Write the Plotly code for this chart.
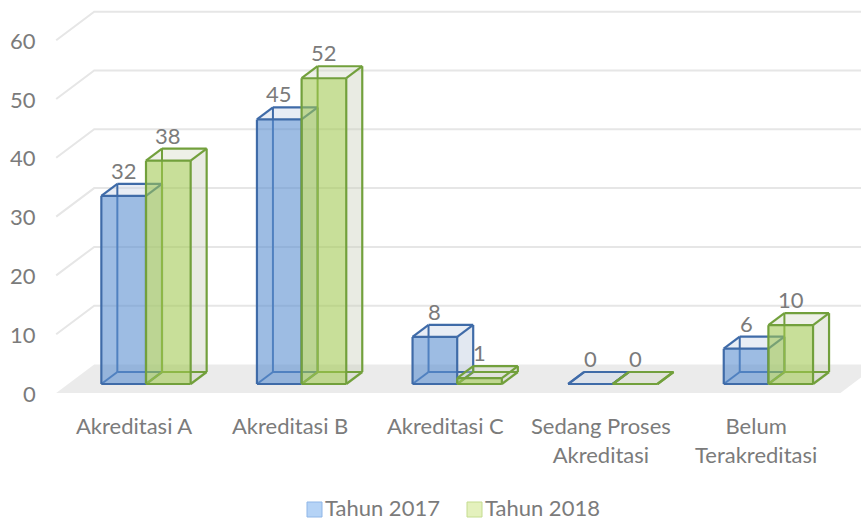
import plotly.graph_objects as go

# ---------------- data ----------------
categories = ["Akreditasi A", "Akreditasi B", "Akreditasi C",
              "Sedang Proses<br>Akreditasi", "Belum<br>Terakreditasi"]
series_names = ["Tahun 2017", "Tahun 2018"]
tahun_2017 = [32, 45, 8, 0, 6]
tahun_2018 = [38, 52, 1, 0, 10]
y_ticks = [0, 10, 20, 30, 40, 50, 60]

# ---------------- style / geometry ----------------
FIG_W, FIG_H = 861, 522
PX_U, PX_V = 155.6, 5.88          # pixels per category unit / value unit
ORIGIN_PX, ORIGIN_PY = 146, 384   # pixel of (category 0, value 0) on bar-front plane
DU = 38 / PX_U                    # depth (floor front -> back wall) in x units
DV = 28.5 / PX_V                  # depth in value units
ZF = 9 / 28.5                     # bar front depth
ZB = ZF + 12 / 28.5               # bar back depth
W = 0.287                         # bar width (category units)
U_LO, U_HI = -0.5, 4.54           # floor extent

TEXT_COLOR = "#7b7b7b"
FONT = "Lato"
FS = 22

series_style = [
    dict(edge="#3f6ba8", front="rgba(91,143,208,0.60)", side="rgba(190,203,225,0.45)",
         top="rgba(205,215,232,0.45)", sw_fill="#b5d3f6", sw_line="#8fb6e7"),
    dict(edge="#72a03c", front="rgba(160,200,80,0.58)", side="rgba(200,205,185,0.40)",
         top="rgba(205,212,190,0.35)", sw_fill="#e4f1bd", sw_line="#c4dc8f"),
]


def P(u, v, z):
    return (u + (z - ZF) * DU, v + (z - ZF) * DV)


def poly(pts):
    xs = [p[0] for p in pts] + [pts[0][0]]
    ys = [p[1] for p in pts] + [pts[0][1]]
    return xs, ys


def segs(pairs):
    xs, ys = [], []
    for a, b in pairs:
        xs += [a[0], b[0], None]
        ys += [a[1], b[1], None]
    return xs, ys


fig = go.Figure()

# floor
fx, fy = poly([P(U_LO, 0, 0), P(U_HI, 0, 0), P(U_HI, 0, 1), P(U_LO, 0, 1)])
fig.add_trace(go.Scatter(x=fx, y=fy, mode="lines", fill="toself",
                         fillcolor="#ebebeb", line=dict(width=0),
                         hoverinfo="skip", showlegend=False))

# gridlines (side wall diagonal + back wall)
gx, gy = [], []
for v in y_ticks[1:]:
    for p in [P(U_LO, v, 0), P(U_LO, v, 1), P(U_HI, v, 1)]:
        gx.append(p[0]); gy.append(p[1])
    gx.append(None); gy.append(None)
fig.add_trace(go.Scatter(x=gx, y=gy, mode="lines",
                         line=dict(color="#e6e6e6", width=2),
                         hoverinfo="skip", showlegend=False))

annotations = []
all_series = [tahun_2017, tahun_2018]

for i in range(len(categories)):
    for s, vals in enumerate(all_series):
        st = series_style[s]
        v = vals[i]
        x0 = i - W + s * W
        x1 = x0 + W
        FBL, FBR, FTR, FTL = P(x0, 0, ZF), P(x1, 0, ZF), P(x1, v, ZF), P(x0, v, ZF)
        BBL, BBR, BTR, BTL = P(x0, 0, ZB), P(x1, 0, ZB), P(x1, v, ZB), P(x0, v, ZB)

        # right side face
        sx, sy = poly([FBR, BBR, BTR, FTR])
        fig.add_trace(go.Scatter(x=sx, y=sy, mode="lines", fill="toself",
                                 fillcolor=st["side"], line=dict(width=0),
                                 hoverinfo="skip", showlegend=False))
        # top face
        tx, ty = poly([FTL, FTR, BTR, BTL])
        fig.add_trace(go.Scatter(x=tx, y=ty, mode="lines", fill="toself",
                                 fillcolor=st["top"], line=dict(width=0),
                                 hoverinfo="skip", showlegend=False))
        # hidden edges (seen through the front face)
        hx, hy = segs([(BBL, BTL), (BBL, BBR), (FBL, BBL)])
        fig.add_trace(go.Scatter(x=hx, y=hy, mode="lines",
                                 line=dict(color=st["edge"], width=2),
                                 hoverinfo="skip", showlegend=False))
        # front face
        frx, fry = poly([FBL, FBR, FTR, FTL])
        fig.add_trace(go.Scatter(x=frx, y=fry, mode="lines", fill="toself",
                                 fillcolor=st["front"], line=dict(width=0),
                                 hoverinfo="skip", showlegend=False))
        # visible edges
        ex, ey = segs([(FBL, FBR), (FBR, FTR), (FTR, FTL), (FTL, FBL),
                       (FTL, BTL), (BTL, BTR), (BTR, FTR),
                       (FBR, BBR), (BBR, BTR)])
        fig.add_trace(go.Scatter(x=ex, y=ey, mode="lines",
                                 line=dict(color=st["edge"], width=2.2),
                                 hoverinfo="skip", showlegend=False))
        # data label
        annotations.append(dict(x=(x0 + x1) / 2, y=BTL[1], text=str(v),
                                xref="x", yref="y", showarrow=False,
                                xanchor="center", yanchor="bottom", yshift=-2,
                                font=dict(family=FONT, size=FS, color=TEXT_COLOR)))

# category labels
for i, c in enumerate(categories):
    cx, cy = P(i, 0, 0)
    annotations.append(dict(x=cx, y=cy, text=c, xref="x", yref="y",
                            showarrow=False, xanchor="center", yanchor="top",
                            yshift=-17, align="center",
                            font=dict(family=FONT, size=FS, color=TEXT_COLOR)))

# value-axis labels
for v in y_ticks:
    lx, ly = P(U_LO, v, 0)
    annotations.append(dict(x=lx, y=ly, text=str(v), xref="x", yref="y",
                            showarrow=False, xanchor="right", yanchor="middle",
                            xshift=-18,
                            font=dict(family=FONT, size=FS, color=TEXT_COLOR)))

# legend (swatches + text)
shapes = []
legend_x = [307, 467]
for s, name in enumerate(series_names):
    st = series_style[s]
    lx = legend_x[s]
    shapes.append(dict(type="rect", xref="paper", yref="paper",
                       x0=lx / FIG_W, x1=(lx + 15) / FIG_W,
                       y0=1 - 517 / FIG_H, y1=1 - 502 / FIG_H,
                       fillcolor=st["sw_fill"], line=dict(color=st["sw_line"], width=1)))
    annotations.append(dict(x=(lx + 17) / FIG_W, y=0, text=name,
                            xref="paper", yref="paper", showarrow=False,
                            xanchor="left", yanchor="bottom", borderpad=0,
                            font=dict(family=FONT, size=FS, color=TEXT_COLOR)))

x_range = [(0 - ORIGIN_PX) / PX_U, (FIG_W - ORIGIN_PX) / PX_U]
y_range = [(ORIGIN_PY - FIG_H) / PX_V, ORIGIN_PY / PX_V]

fig.update_layout(
    width=FIG_W, height=FIG_H, autosize=False,
    margin=dict(l=0, r=0, t=0, b=0, pad=0),
    paper_bgcolor="white", plot_bgcolor="white",
    xaxis=dict(range=x_range, visible=False, fixedrange=True),
    yaxis=dict(range=y_range, visible=False, fixedrange=True),
    showlegend=False,
    annotations=annotations,
    shapes=shapes,
)

fig.write_html("out.html",
               config={"displayModeBar": False},
               post_script="document.body.style.margin='0';document.body.style.overflow='hidden';")
